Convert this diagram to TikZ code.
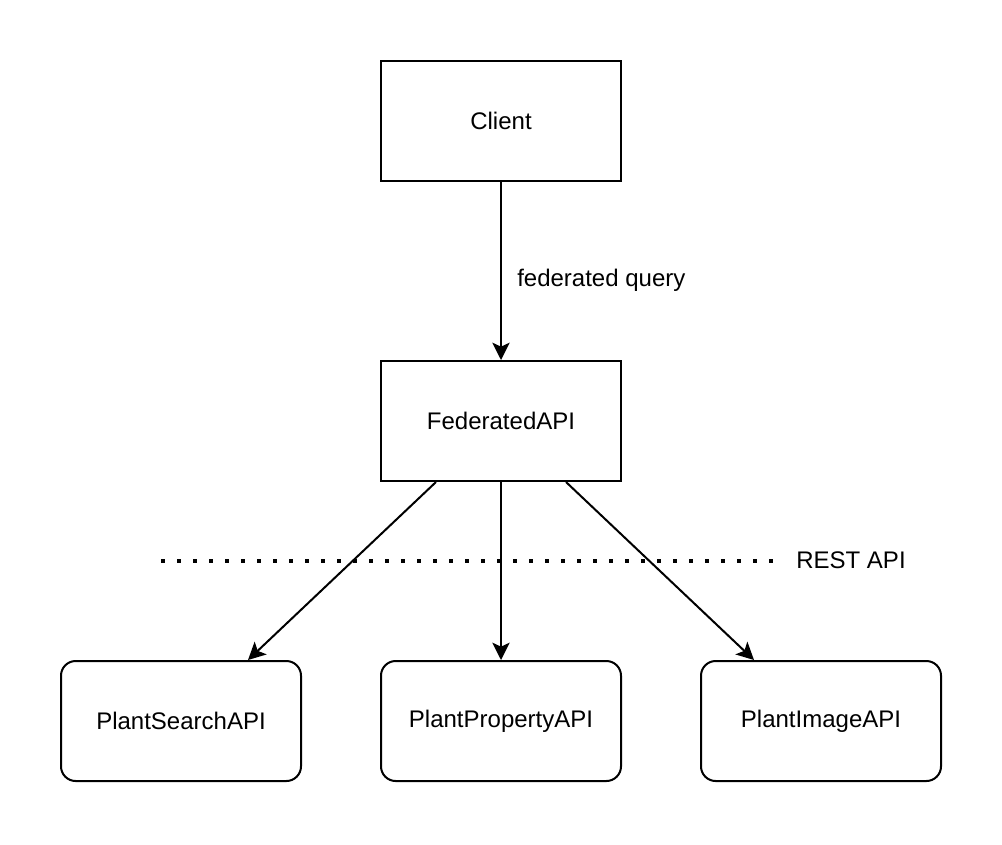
\documentclass[tikz,border=0pt]{standalone}
\usepackage{fontspec}
\setmainfont{Liberation Sans}
\usetikzlibrary{arrows.meta}
\begin{document}
\begin{tikzpicture}[x=0.75pt,y=-0.75pt,
  box/.style={draw,line width=1.5pt,minimum width=180pt,minimum height=90pt,inner sep=0pt,font=\fontsize{18pt}{21pt}\selectfont},
  rbox/.style={box,rounded corners=11pt},
  conn/.style={line width=1.5pt,-{Stealth[length=13pt,width=13pt,inset=3pt]}},
  lbl/.style={font=\fontsize{18pt}{21pt}\selectfont,inner sep=0pt}]
\useasboundingbox (0,0) rectangle (1002,844);
\node[box] (client) at (501,121) {Client};
\node[box] (fed) at (501,421) {FederatedAPI};
\node[rbox] (search) at (181,721) {PlantSearchAPI};
\node[rbox] (prop) at (501,721) {PlantPropertyAPI};
\node[rbox] (img) at (821,721) {PlantImageAPI};
\draw[conn] (client.south) -- (fed.north);
\node[lbl,anchor=west] (fq) at (517,280) {federated query};
\coordinate (d1) at (161,561);
\coordinate (d2) at (777,561);
\draw[line width=3pt,dash pattern=on 3pt off 9pt] (d1) -- (d2);
\node[lbl] (rest) at (851,560) {REST API};
\path (fed.south west) ++(56,0) coordinate (s1);
\path (search.north east) ++(-54,0) coordinate (e1);
\path (fed.south east) ++(-56,0) coordinate (s3);
\path (img.north west) ++(54,0) coordinate (e3);
\draw[conn] (s1) -- (e1);
\draw[conn] (fed.south) -- (prop.north);
\draw[conn] (s3) -- (e3);
\end{tikzpicture}
\end{document}
